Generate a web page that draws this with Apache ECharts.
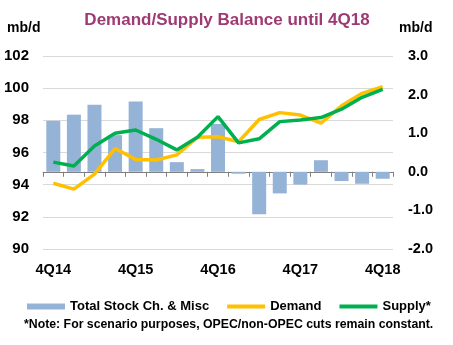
<!DOCTYPE html>
<html>
<head>
<meta charset="utf-8">
<script src="https://cdn.jsdelivr.net/npm/echarts@6/dist/echarts.min.js"></script>
<style>
html,body{margin:0;padding:0;background:#fff;}
#c{width:453px;height:345px;}
</style>
</head>
<body>
<div id="c"></div>
<script>
var categories = ['4Q14','1Q15','2Q15','3Q15','4Q15','1Q16','2Q16','3Q16','4Q16','1Q17','2Q17','3Q17','4Q17','1Q18','2Q18','3Q18','4Q18'];
var stockChange = [1.32, 1.48, 1.74, 0.95, 1.82, 1.13, 0.25, 0.07, 1.24, -0.05, -1.1, -0.56, -0.33, 0.3, -0.24, -0.31, -0.18];
var demand = [94.09, 93.72, 94.66, 96.25, 95.57, 95.53, 95.85, 96.95, 96.98, 96.67, 98.05, 98.48, 98.33, 97.82, 98.9, 99.68, 100.09];
var supply = [95.4, 95.16, 96.4, 97.2, 97.4, 96.82, 96.16, 96.95, 98.23, 96.6, 96.85, 97.92, 98.02, 98.17, 98.69, 99.43, 99.93];
var leftTicks = [90, 102, 2];
var rightTicks = [-2, 3, 1];

var chart = echarts.init(document.getElementById('c'), null, {renderer: 'canvas'});
var FONT = '"Liberation Sans", Arial, sans-serif';
chart.setOption({
  animation: false,
  backgroundColor: '#ffffff',
  title: {
    text: 'Demand/Supply Balance until 4Q18',
    left: 222, top: 7, textAlign: 'center',
    textStyle: {color: '#9E3A73', fontFamily: FONT, fontWeight: 'bold', fontSize: 17}
  },
  graphic: [
    {type: 'text', left: 7, top: 21, style: {text: 'mb/d', fill: '#000', font: 'bold 14px ' + FONT}},
    {type: 'text', left: 399, top: 21, style: {text: 'mb/d', fill: '#000', font: 'bold 14px ' + FONT}},
    {type: 'text', left: 24, top: 319, style: {text: '*Note: For scenario purposes, OPEC/non-OPEC cuts remain constant.', fill: '#000', font: 'bold 12.3px ' + FONT}}
  ],
  grid: {left: 43, right: 60, top: 56, bottom: 96},
  legend: {
    left: 22, top: 295,
    itemWidth: 38, itemHeight: 6, itemGap: 18,
    textStyle: {fontFamily: FONT, fontWeight: 'bold', fontSize: 13, color: '#000'},
    data: [
      {name: 'Total Stock Ch. & Misc', icon: 'path://M0,0L38,0L38,6L0,6Z'},
      {name: 'Demand', icon: 'path://M0,0L38,0L38,4L0,4Z'},
      {name: 'Supply*', icon: 'path://M0,0L38,0L38,4L0,4Z'}
    ]
  },
  xAxis: {
    type: 'category',
    data: categories,
    boundaryGap: true,
    axisLine: {lineStyle: {color: '#7f7f7f', width: 1}},
    axisTick: {show: true, interval: 0, length: 5, lineStyle: {color: '#7f7f7f'}},
    axisLabel: {interval: 3, color: '#000', fontFamily: FONT, fontWeight: 'bold', fontSize: 14.5, margin: 13}
  },
  yAxis: [
    {
      type: 'value', min: leftTicks[0], max: leftTicks[1], interval: leftTicks[2],
      axisLine: {show: false}, axisTick: {show: false},
      splitLine: {lineStyle: {color: '#d9d9d9', width: 1}},
      axisLabel: {color: '#000', fontFamily: FONT, fontWeight: 'bold', fontSize: 15, margin: 14}
    },
    {
      type: 'value', min: rightTicks[0], max: rightTicks[1], interval: rightTicks[2],
      axisLine: {show: false}, axisTick: {show: false},
      splitLine: {show: false},
      axisLabel: {color: '#000', fontFamily: FONT, fontWeight: 'bold', fontSize: 14.5, margin: 15,
        formatter: function (v) { return v.toFixed(1); }}
    }
  ],
  series: [
    {
      name: 'Total Stock Ch. & Misc', type: 'bar', yAxisIndex: 1,
      data: stockChange, barCategoryGap: '32%',
      itemStyle: {color: '#95B3D7'}
    },
    {
      name: 'Demand', type: 'line', yAxisIndex: 0, data: demand,
      symbol: 'none', lineStyle: {color: '#FFC000', width: 3.5}, itemStyle: {color: '#FFC000'}
    },
    {
      name: 'Supply*', type: 'line', yAxisIndex: 0, data: supply,
      symbol: 'none', lineStyle: {color: '#00B050', width: 3.5}, itemStyle: {color: '#00B050'}
    }
  ]
});
</script>
</body>
</html>
